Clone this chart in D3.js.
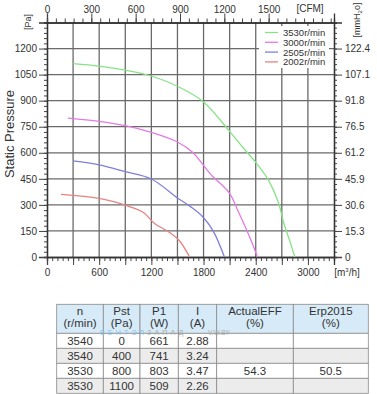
<!DOCTYPE html>
<html lang="en">
<head>
    <meta charset="UTF-8">
    <title>Fan curve</title>
    <style>
        body { margin: 0; background: #fff; }
        svg text { font-family: "Liberation Sans", Arial, sans-serif; fill: #333; }
    </style>
</head>
<body>
    <svg id="container" width="377" height="394"></svg>

<script src="https://cdn.jsdelivr.net/npm/d3@7/dist/d3.min.js"></script>
<script>
    // curves: [airflow m3/h, static pressure Pa]
    let curve3530 = [[300, 1113], [600, 1099], [900, 1076], [1200, 1042], [1500, 983], [1800, 893],
        [2100, 723], [2250, 632], [2400, 545], [2540, 448], [2660, 315], [2720, 200], [2790, 95], [2850, 0]]
    let curve3000 = [[240, 800], [600, 781], [900, 756], [1200, 717], [1500, 662], [1680, 600],
        [1780, 540], [1900, 466], [2000, 420], [2100, 366], [2210, 250], [2330, 115], [2420, 0]]
    let curve2505 = [[300, 553], [600, 530], [900, 491], [1200, 449], [1500, 340], [1650, 290],
        [1790, 232], [1910, 150], [2040, 0]]
    let curve2002 = [[160, 360], [600, 337], [900, 298], [1100, 259], [1240, 192], [1400, 144],
        [1520, 95], [1640, 0]]

    let seriesNames = ["3530r/min", "3000r/min", "2505r/min", "2002r/min"]
    let seriesColors = ["#86e486", "#e47ae4", "#7f7fe0", "#e88282"]

    let flowTicks = [0, 600, 1200, 1800, 2400, 3000]
    let cfmTicks = [0, 300, 600, 900, 1200, 1500]
    let paTicks = [0, 150, 300, 450, 600, 750, 900, 1050, 1200]
    let mmTicks = ["0", "15.3", "30.6", "45.9", "61.2", "76.5", "91.8", "107.1", "122.4"]

    let tableHeader = [["n", "(r/min)"], ["Pst", "(Pa)"], ["P1", "(W)"], ["I", "(A)"], ["ActualEFF", "(%)"], ["Erp2015", "(%)"]]
    let tableRows = [
        ["3540", "0", "661", "2.88", "", ""],
        ["3540", "400", "741", "3.24", "", ""],
        ["3530", "800", "803", "3.47", "54.3", "50.5"],
        ["3530", "1100", "509", "2.26", "", ""]
    ]

    let svg = d3.select("#container")
    let plotL = 47, plotR = 334, plotT = 22.5, plotB = 257

    let x = d3.scaleLinear().domain([0, 3300]).range([plotL, plotR])
    let y = d3.scaleLinear().domain([0, 1350]).range([plotB, plotT])
    let xCfm = d3.scaleLinear().domain([0, 3300 / 1.699]).range([plotL, plotR])
    let yMm = d3.scaleLinear().domain([0, 1350 / 9.80665]).range([plotB, plotT])

    // grid
    let grid = svg.append("g").attr("stroke", "#6a6a6a").attr("stroke-width", 1.3)
    grid.selectAll(".gx").data(d3.range(300, 3001, 300)).enter().append("line")
        .attr("x1", d => x(d)).attr("x2", d => x(d)).attr("y1", plotT).attr("y2", plotB)
    grid.selectAll(".gy").data(paTicks.slice(1)).enter().append("line")
        .attr("x1", plotL).attr("x2", plotR).attr("y1", d => y(d)).attr("y2", d => y(d))

    // axes
    function styleAxis(g) {
        g.select(".domain").attr("stroke", "#333").attr("stroke-width", 1.3)
        g.selectAll(".tick line").attr("stroke", "#444")
        g.selectAll(".tick text").attr("font-size", 10).attr("fill", "#333")
            .style("font-family", "'Liberation Sans', Arial, sans-serif")
    }

    // minor ticks first
    let minorBottom = d3.axisBottom(x).tickValues(d3.range(0, 3301, 60)).tickSize(4).tickFormat("")
    svg.append("g").attr("transform", `translate(0,${plotB})`).call(minorBottom).call(styleAxis)
    let xAxis = d3.axisBottom(x).tickValues(d3.range(0, 3001, 300)).tickSize(8).tickPadding(4)
        .tickFormat(d => flowTicks.includes(d) ? String(d) : "")
    svg.append("g").attr("transform", `translate(0,${plotB})`).call(xAxis).call(styleAxis)

    let minorTop = d3.axisTop(xCfm).tickValues(d3.range(0, 1940, 60)).tickSize(4).tickFormat("")
    svg.append("g").attr("transform", `translate(0,${plotT})`).call(minorTop).call(styleAxis)
    let topAxis = d3.axisTop(xCfm).tickValues(cfmTicks).tickSize(9).tickPadding(1)
        .tickFormat(d => String(d))
    svg.append("g").attr("transform", `translate(0,${plotT})`).call(topAxis).call(styleAxis)

    let minorLeft = d3.axisLeft(y).tickValues(d3.range(0, 1351, 30)).tickSize(3).tickFormat("")
    svg.append("g").attr("transform", `translate(${plotL},0)`).call(minorLeft).call(styleAxis)
    let yAxis = d3.axisLeft(y).tickValues(paTicks).tickSize(8).tickPadding(2)
        .tickFormat(d => String(d))
    svg.append("g").attr("transform", `translate(${plotL},0)`).call(yAxis).call(styleAxis)

    let minorRight = d3.axisRight(yMm).tickValues(d3.range(0, 138, 1530 / 500)).tickSize(3).tickFormat("")
    svg.append("g").attr("transform", `translate(${plotR},0)`).call(minorRight).call(styleAxis)
    let rightAxis = d3.axisRight(y).tickValues(paTicks).tickSize(8).tickPadding(3)
        .tickFormat((d, i) => mmTicks[i])
    svg.append("g").attr("transform", `translate(${plotR},0)`).call(rightAxis).call(styleAxis)

    // unit labels
    svg.append("text").attr("x", 310).attr("y", 12).attr("font-size", 10).attr("text-anchor", "middle").text("[CFM]")
    svg.append("text").attr("x", 347).attr("y", 276).attr("font-size", 10).attr("text-anchor", "middle")
        .html("[m<tspan dy='-4' font-size='6'>3</tspan><tspan dy='4'>/h]</tspan>")
    svg.append("text").attr("transform", "translate(31,22) rotate(-90)").attr("font-size", 9)
        .attr("text-anchor", "middle").text("[Pa]")
    svg.append("text").attr("transform", "translate(360,20) rotate(-90)").attr("font-size", 9)
        .attr("text-anchor", "middle")
        .html("[mmH<tspan dy='2' font-size='6'>2</tspan><tspan dy='-2'>o]</tspan>")
    svg.append("text").attr("transform", "translate(14,134) rotate(-90)").attr("font-size", 13)
        .attr("text-anchor", "middle").text("Static Pressure")

    // curves
    let line = d3.line().x(d => x(d[0])).y(d => y(d[1])).curve(d3.curveCatmullRom.alpha(0.5))
    let allCurves = [curve3530, curve3000, curve2505, curve2002]
    svg.append("g").selectAll("path").data(allCurves).enter().append("path")
        .attr("d", line).attr("fill", "none").attr("stroke-width", 1.3)
        .attr("stroke", (d, i) => seriesColors[i])

    // legend
    let legend = svg.append("g").attr("transform", "translate(259,26)")
    legend.append("rect").attr("width", 70).attr("height", 42).attr("fill", "#fff")
    let items = legend.selectAll(".item").data(seriesNames).enter().append("g")
        .attr("transform", (d, i) => `translate(0,${6.5 + i * 9.8})`)
    items.append("line").attr("x1", 6).attr("x2", 19).attr("stroke-width", 1.3)
        .attr("stroke", (d, i) => seriesColors[i])
    items.append("text").attr("x", 24).attr("y", 3.5).attr("font-size", 9.5).text(d => d)

    // table
    let colEdges = [56.7, 103.3, 140, 178.3, 216.7, 293.3, 368.3]
    let tTop = 304.3, headH = 29, rowH = 15
    let table = svg.append("g")
    table.selectAll(".hc").data(tableHeader).enter().append("rect")
        .attr("x", (d, i) => colEdges[i]).attr("y", tTop)
        .attr("width", (d, i) => colEdges[i + 1] - colEdges[i]).attr("height", headH)
        .attr("fill", "#d6eaf7").attr("stroke", "#8a8a8a").attr("stroke-width", 0.8)
    let htext = table.selectAll(".ht").data(tableHeader).enter().append("text")
        .attr("text-anchor", "middle").attr("font-size", 11.5)
    htext.append("tspan").attr("x", (d, i) => (colEdges[i] + colEdges[i + 1]) / 2).attr("y", tTop + 11).text(d => d[0])
    htext.append("tspan").attr("x", (d, i) => (colEdges[i] + colEdges[i + 1]) / 2).attr("y", tTop + 23).text(d => d[1])

    tableRows.forEach((row, r) => {
        let ry = tTop + headH + r * rowH
        table.append("g").selectAll("rect").data(row).enter().append("rect")
            .attr("x", (d, i) => colEdges[i]).attr("y", ry)
            .attr("width", (d, i) => colEdges[i + 1] - colEdges[i]).attr("height", rowH)
            .attr("fill", r % 2 ? "#ececec" : "#fff").attr("stroke", "#8a8a8a").attr("stroke-width", 0.8)
        table.append("g").selectAll("text").data(row).enter().append("text")
            .attr("x", (d, i) => (colEdges[i] + colEdges[i + 1]) / 2).attr("y", ry + 12)
            .attr("text-anchor", "middle").attr("font-size", 11.5).text(d => d)
    })

    // watermark
    svg.append("text").attr("x", 100).attr("y", 335).attr("font-size", 7).attr("letter-spacing", 3.2)
        .style("fill", "#8cc4ec").text("ВЕНТЭЛ")
    svg.append("text").attr("x", 147).attr("y", 335).attr("font-size", 7).attr("letter-spacing", 3.2)
        .style("fill", "#aaa").text("ЗАПАД")
    svg.append("text").attr("x", 208).attr("y", 335).attr("font-size", 6.5)
        .style("fill", "#aaa").text("V.W.BY")
</script>
</body>
</html>
